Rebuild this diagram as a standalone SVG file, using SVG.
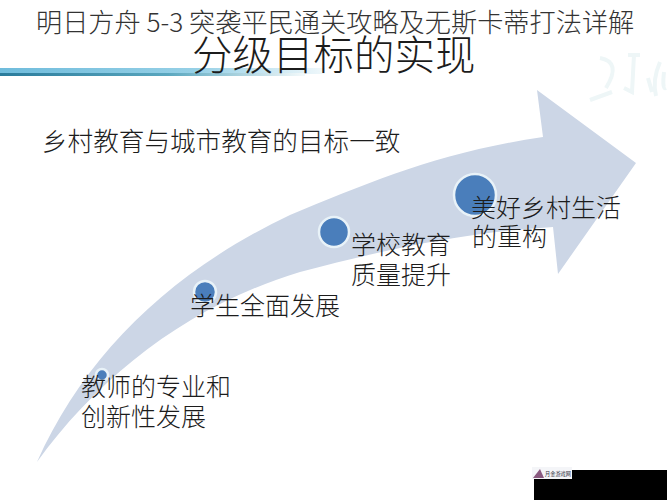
<svg xmlns="http://www.w3.org/2000/svg" width="667" height="500" viewBox="0 0 667 500">
<defs>
<linearGradient id="band" x1="0" y1="0" x2="1" y2="0"><stop offset="0" stop-color="#6fbcdc"/><stop offset="0.6" stop-color="#96d0e6"/><stop offset="1" stop-color="#f0f8fb"/></linearGradient>
<linearGradient id="band2" x1="0" y1="0" x2="1" y2="0"><stop offset="0" stop-color="#2a7b9b"/><stop offset="0.55" stop-color="#5aa7bf"/><stop offset="1" stop-color="#f4fafb"/></linearGradient>
</defs>
<style>
.cjk{font-family:"Noto Sans CJK SC","Liberation Sans",sans-serif;fill:#1c1c1c;font-weight:300}
.lab{font-size:25px}
.dot{fill:#4a7ebb;stroke:#e8f2f8;stroke-width:2.5}
</style>
<rect width="667" height="500" fill="#ffffff"/>
<g id="watermark" fill="none" stroke="#eef6f7" stroke-width="4">
<path d="M600 58 Q622 62 606 88 M628 55 L640 55 M634 55 L632 92 L624 88 M612 92 L590 100"/>
<path d="M648 78 L652 92 M660 62 Q652 80 656 96 M664 72 Q662 90 666 88"/>
</g>
<g id="rule">
<rect x="0" y="68" width="325" height="6" fill="url(#band)"/>
<rect x="0" y="73" width="305" height="3" fill="url(#band2)"/>
</g>
<g id="arrow">
<path d="M37 462 C85 355 170 272 290 215 C370 182 440 152 543 137 L537 90 L636 163 L558 274 L553 227 C470 232 390 248 300 272 C190 305 100 375 37 462 Z" fill="#ccd6e6"/>
</g>
<g id="node-4"><circle class="dot" cx="475" cy="195" r="21"/><text class="cjk lab" x="471" y="217">美好乡村生活</text><text class="cjk lab" x="472" y="246">的重构</text></g>
<g id="node-3"><circle class="dot" cx="334" cy="232" r="15"/><text class="cjk lab" x="351" y="254">学校教育</text><text class="cjk lab" x="351" y="284">质量提升</text></g>
<g id="node-2"><circle class="dot" cx="205" cy="292" r="11"/><text class="cjk lab" x="190" y="315">学生全面发展</text></g>
<g id="node-1"><circle class="dot" cx="102" cy="375" r="6"/><text class="cjk lab" x="81" y="396">教师的专业和</text><text class="cjk lab" x="81" y="426">创新性发展</text></g>
<text class="cjk" x="42" y="151" font-size="25.6">乡村教育与城市教育的目标一致</text>
<text class="cjk" x="192" y="70" font-size="40.5">分级目标的实现</text>
<text x="36" y="32" font-size="26.2" style="font-family:'Noto Sans CJK SC','Liberation Sans',sans-serif;fill:#333;font-weight:300">明日方舟 5-3 突袭平民通关攻略及无斯卡蒂打法详解</text>
<rect x="534" y="470" width="133" height="30" fill="#000"/>
<g id="logo">
<rect x="532" y="467" width="40" height="12" fill="#f4f5f8"/>
<path d="M533 478 L540 469 L544 478 Z" fill="#8a5a80"/>
<text x="545" y="476" font-size="5.2" style="font-family:'Noto Sans CJK SC',sans-serif;fill:#334">月金游戏网</text>
</g>
</svg>
